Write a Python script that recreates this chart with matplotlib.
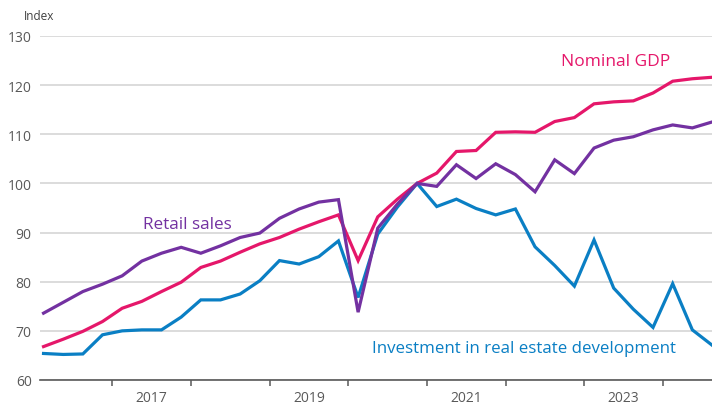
import matplotlib
matplotlib.use('Agg')
import matplotlib.pyplot as plt
import numpy as np
import pandas as pd

plt.rcParams['font.family'] = ['Open Sans', 'DejaVu Sans']

# quarterly series, 2016Q1 .. 2024Q3 (index, 2020Q4 = 100)
quarters = pd.period_range('2016Q1', '2024Q3', freq='Q')

nominal_gdp = [66.8, 68.3, 69.9, 71.9, 74.6, 76.0, 78.0, 79.9, 82.9, 84.2,
               86.0, 87.7, 89.0, 90.7, 92.2, 93.6, 84.3, 93.2, 96.8, 100.0,
               102.1, 106.5, 106.7, 110.4, 110.5, 110.4, 112.6, 113.4, 116.2, 116.6,
               116.8, 118.4, 120.8, 121.3, 121.6]
retail_sales = [73.6, 75.8, 78.0, 79.5, 81.2, 84.2, 85.8, 87.0, 85.8, 87.3,
                89.0, 89.9, 92.9, 94.8, 96.2, 96.7, 73.8, 90.9, 95.8, 100.0,
                99.4, 103.8, 101.0, 104.0, 101.8, 98.3, 104.8, 102.0, 107.2, 108.8,
                109.5, 110.9, 111.9, 111.3, 112.5]
re_investment = [65.4, 65.2, 65.3, 69.2, 70.0, 70.2, 70.2, 72.8, 76.3, 76.3,
                 77.5, 80.2, 84.3, 83.6, 85.1, 88.3, 76.8, 89.7, 95.2, 100.0,
                 95.3, 96.8, 94.9, 93.6, 94.8, 87.1, 83.3, 79.1, 88.5, 78.7,
                 74.4, 70.7, 79.6, 70.2, 67.1]

c_gdp = '#e5176a'
c_retail = '#7331a1'
c_inv = '#0a7fc4'

# mid-quarter positions in fractional years
x = quarters.year + (quarters.quarter - 0.5) / 4

fig = plt.figure(figsize=(7.12, 4.10), dpi=100)
ax = fig.add_axes([40/712, 1 - 381/410, 672/712, 344/410])

ax.plot(x, re_investment, color=c_inv, lw=2.3, solid_joinstyle='miter', zorder=3)
ax.plot(x, nominal_gdp, color=c_gdp, lw=2.3, solid_joinstyle='miter', zorder=3)
ax.plot(x, retail_sales, color=c_retail, lw=2.3, solid_joinstyle='miter', zorder=4)

ax.set_ylim(60, 130)
ax.set_xlim(2016.08, 2024.625)
ax.set_yticks(range(60, 131, 10))
ax.grid(axis='y', color='#d9d9d9', lw=1.3)
ax.set_axisbelow(True)

for s in ['top', 'right', 'left']:
    ax.spines[s].set_visible(False)
ax.spines['bottom'].set_color('#595959')
ax.spines['bottom'].set_linewidth(1.2)
ax.spines['bottom'].set_zorder(5)

ax.set_xticks(range(2017, 2025))
ax.set_xticklabels([])
ax.tick_params(axis='x', which='major', length=4.5, width=1.1, color='#595959')
ax.set_xticks([2017.5, 2019.5, 2021.5, 2023.5], minor=True)
ax.set_xticklabels(['2017', '2019', '2021', '2023'], minor=True)
ax.tick_params(axis='x', which='minor', length=0, pad=7, labelsize=10, labelcolor='#595959')
ax.tick_params(axis='y', length=0, pad=6, labelsize=10, labelcolor='#595959')

fig.text(24/712, 1 - 16/410, 'Index', fontsize=8.5, color='#404040', ha='left', va='center')

ax.text(2023.40, 125.0, 'Nominal GDP', color=c_gdp, fontsize=12.5, ha='center', va='center')
ax.text(2017.96, 91.8, 'Retail sales', color=c_retail, fontsize=12.3, ha='center', va='center')
ax.text(2022.24, 66.5, 'Investment in real estate development', color=c_inv, fontsize=12.2,
        ha='center', va='center')

fig.savefig('out.png', dpi=100)
